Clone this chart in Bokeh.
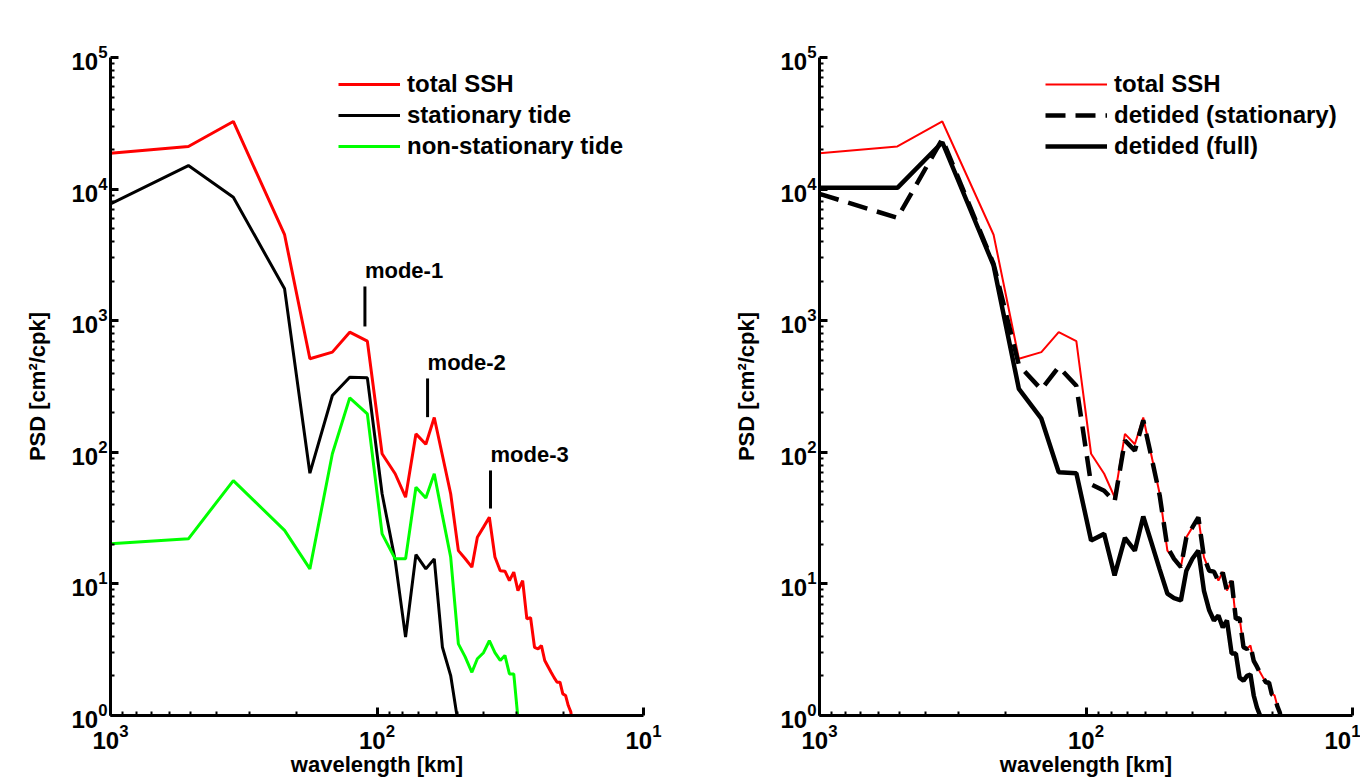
from bokeh.plotting import figure
from bokeh.models import Range1d, FixedTicker, Legend, LegendItem
from bokeh.layouts import row
from bokeh.embed import file_html
from bokeh.resources import INLINE
from bokeh.core.properties import value

# wavenumber of each spectral estimate, in cycles per 1000 km
wavenumber = [1.0, 1.96, 2.89, 4.5, 5.6, 6.8, 7.9, 9.2, 10.45, 11.7, 12.8, 14.0, 15.25, 16.4,
              17.6, 18.9, 20.2, 21.4, 22.7, 23.8, 25.1, 26.4, 27.7, 29.0, 30.2, 31.4, 32.6,
              33.8, 35.2, 36.5, 37.7, 39.0, 40.2, 41.4, 42.6, 43.8, 45.0, 46.2, 47.4, 48.6,
              49.8, 51.0, 52.2, 53.4, 54.6]
wavelength_km = [1000.0 / k for k in wavenumber]

# PSD [cm^2/cpk]
total_ssh = [18750, 21080, 32650, 4500, 514, 577, 818, 699, 97.5, 68.7, 45.6, 138, 115, 184,
             94.6, 48.4, 17.9, 15.6, 13.4, 22.6, 27, 32.1, 16, 12.6, 12.5, 10.6, 12.3,
             8.9, 10.6, 5.43, 5.53, 3.3, 3.21, 3.4, 2.62, 2.36, 2.13, 1.94, 1.79, 1.79,
             1.46, 1.42, 1.19, 1.06, 0.7]
stationary_tide = [7730, 15100, 8680, 1746, 69.4, 270, 372, 368, 48.4, 15.1, 3.94, 16.7, 13.0,
                   15.5, 3.3, 2.01, 0.85]
nonstationary_tide = [20.2, 22.0, 61, 25.5, 13.0, 97.5, 259, 196, 24, 15.5, 15.5, 54.3, 45,
                      68.7, 33, 16, 3.5, 2.8, 2.13, 2.7, 3.0, 3.7, 3.0, 2.62, 2.86, 2.07,
                      2.07, 0.95]
detided_stationary = [9200, 6050, 24000, 2700, 460, 300, 445, 320, 57, 51, 42, 123, 103, 175,
                      92, 47, 19, 15.5, 13.4, 22.6, 27, 32, 16, 12.6, 12.4, 10.5, 12.2,
                      8.8, 10.5, 5.4, 5.5, 3.3, 3.2, 3.4, 2.6, 2.35, 2.1, 1.93, 1.78, 1.78,
                      1.45, 1.41, 1.18, 1.05, 0.7]
detided_full = [10230, 10230, 22700, 2630, 303, 180, 70.6, 69.4, 21.4, 24.0, 11.6, 22.4, 17.9,
                32.5, 20.6, 12.9, 8.45, 7.8, 7.48, 12.6, 15.6, 17.9, 8.9, 6.3, 5.27, 5.75,
                4.67, 5.27, 2.96, 2.96, 1.94, 1.84, 2.0, 2.05, 1.42, 1.15, 1.0, 0.9, 0.65]

# mode annotations
mode_labels = ["mode-1", "mode-2", "mode-3"]
mode_wavelength = [111.0, 64.6, 37.5]
mode_top = [1820, 364, 72.8]
mode_bottom = [904, 185, 37.4]

x_major = [1000, 100, 10]
x_minor = [900, 800, 700, 600, 500, 400, 300, 200, 90, 80, 70, 60, 50, 40, 30, 20]
y_major = [1, 10, 100, 1000, 10000, 100000]
y_minor = [m * d for d in [1, 10, 100, 1000, 10000] for m in range(2, 10)]

FONT = "Liberation Sans"
H = 780
TOP = 57          # frame top at page y = 57
BOTTOM = H - TOP - 658


def make_fig(width, border_left, border_right):
    p = figure(width=width, height=H, x_axis_type="log", y_axis_type="log",
               x_range=Range1d(1000, 10), y_range=Range1d(1, 1e5),
               output_backend="svg", toolbar_location=None,
               min_border_left=border_left, min_border_right=border_right,
               min_border_top=TOP, min_border_bottom=BOTTOM)
    p.outline_line_color = None
    p.xgrid.grid_line_color = None
    p.ygrid.grid_line_color = None
    p.xaxis.ticker = FixedTicker(ticks=x_major, minor_ticks=x_minor)
    p.yaxis.ticker = FixedTicker(ticks=y_major, minor_ticks=y_minor)
    for ax in (p.xaxis[0], p.yaxis[0]):
        ax.axis_line_width = 3
        ax.major_tick_line_width = 3
        ax.minor_tick_line_width = 2
        ax.major_tick_in = 8
        ax.major_tick_out = 0
        ax.minor_tick_in = 4
        ax.minor_tick_out = 0
        ax.major_label_text_font = FONT
        ax.major_label_text_font_size = "24px"
        ax.major_label_text_font_style = "bold"
        ax.major_label_text_color = "black"
        ax.axis_label_text_font = FONT
        ax.axis_label_text_font_size = "22px"
        ax.axis_label_text_font_style = "bold"
        ax.axis_label_text_color = "black"
    p.xaxis.major_label_standoff = 8
    p.xaxis.axis_label_standoff = 0
    p.yaxis.major_label_standoff = 3
    p.yaxis.axis_label_standoff = 18
    p.xaxis.axis_label = "wavelength [km]"
    p.yaxis.axis_label = "PSD [cm²/cpk]"
    return p


def make_legend(items, x0):
    return Legend(items=items, location=(x0, 555), orientation="vertical",
                  glyph_width=62, glyph_height=20, label_height=20, label_standoff=7,
                  spacing=3, padding=0, margin=0,
                  border_line_alpha=0, background_fill_alpha=0,
                  label_text_font=FONT, label_text_font_size="24px",
                  label_text_font_style="bold", label_text_color="black")


# ---------------- left panel ----------------
p1 = make_fig(717, 110, 74)
n_st = len(stationary_tide)
n_ns = len(nonstationary_tide)
r_tot = p1.line(wavelength_km, total_ssh, line_color="#ff0000", line_width=3)
r_st = p1.line(wavelength_km[:n_st], stationary_tide, line_color="black", line_width=3)
r_ns = p1.line(wavelength_km[:n_ns], nonstationary_tide, line_color="#00ff00", line_width=3)
p1.segment(x0=mode_wavelength, y0=mode_bottom, x1=mode_wavelength, y1=mode_top,
           line_color="black", line_width=3)
p1.text(x=mode_wavelength, y=mode_top, text=mode_labels, text_font=value(FONT),
        text_font_style="bold", text_font_size="22px", text_color="black",
        text_baseline="bottom", text_align="left", y_offset=-3, x_offset=0)
p1.add_layout(make_legend([
    LegendItem(label="total SSH", renderers=[r_tot]),
    LegendItem(label="stationary tide", renderers=[r_st]),
    LegendItem(label="non-stationary tide", renderers=[r_ns]),
], 228))

# ---------------- right panel ----------------
p2 = make_fig(643, 102, 8)
n_df = len(detided_full)
q_tot = p2.line(wavelength_km, total_ssh, line_color="#ff0000", line_width=2)
q_ds = p2.line(wavelength_km, detided_stationary, line_color="black", line_width=4.5,
               line_dash="20 10")
q_df = p2.line(wavelength_km[:n_df], detided_full, line_color="black", line_width=4.5)
p2.add_layout(make_legend([
    LegendItem(label="total SSH", renderers=[q_tot]),
    LegendItem(label="detided (stationary)", renderers=[q_ds]),
    LegendItem(label="detided (full)", renderers=[q_df]),
], 226))

layout = row(p1, p2)
open("out.html", "w").write(file_html(layout, INLINE))
